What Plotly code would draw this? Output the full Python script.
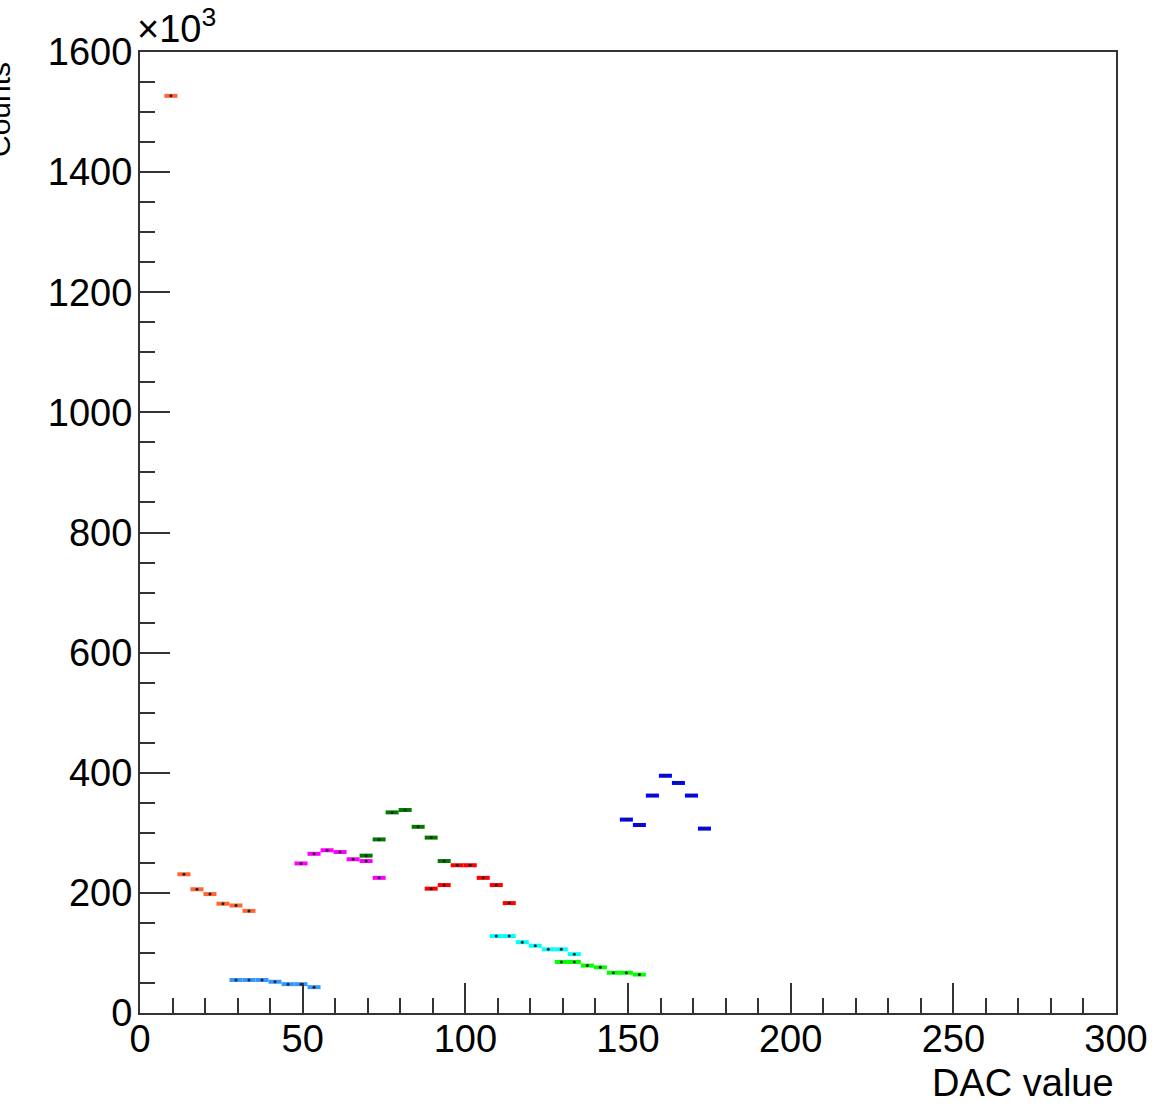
import plotly.graph_objects as go

# ---- data (counts in units of 10^3) ----
bin_half_width = 2.0

orange_x = [9.5, 13.5, 17.5, 21.5, 25.5, 29.5, 33.5]
orange_y = [1527, 231, 206, 198, 182, 179, 170]

azure_x = [29.5, 33.5, 37.5, 41.5, 45.5, 49.5, 53.5]
azure_y = [55, 55, 55, 52, 48, 48, 43]

magenta_x = [49.5, 53.5, 57.5, 61.5, 65.5, 69.5, 73.5]
magenta_y = [249, 265, 271, 268, 256, 253, 225]

dkgreen_x = [69.5, 73.5, 77.5, 81.5, 85.5, 89.5, 93.5]
dkgreen_y = [262, 289, 334, 338, 310, 292, 253]

red_x = [89.5, 93.5, 97.5, 101.5, 105.5, 109.5, 113.5]
red_y = [207, 213, 246, 246, 225, 213, 183]

cyan_x = [109.5, 113.5, 117.5, 121.5, 125.5, 129.5, 133.5]
cyan_y = [128, 128, 118, 112, 106, 106, 98]

lime_x = [129.5, 133.5, 137.5, 141.5, 145.5, 149.5, 153.5]
lime_y = [85, 85, 79, 76, 67, 67, 64]

blue_x = [149.5, 153.5, 157.5, 161.5, 165.5, 169.5, 173.5]
blue_y = [322, 313, 362, 395, 383, 362, 307]

series = [
    (orange_x, orange_y, "#ff6633"),
    (azure_x, azure_y, "#3399ff"),
    (magenta_x, magenta_y, "#ff00ff"),
    (dkgreen_x, dkgreen_y, "#007a00"),
    (red_x, red_y, "#ff0000"),
    (cyan_x, cyan_y, "#00ffff"),
    (lime_x, lime_y, "#00ff00"),
    (blue_x, blue_y, "#0000ff"),
]

fig = go.Figure()
for xs, ys, col in series:
    fig.add_trace(go.Scatter(
        x=xs, y=ys, mode="markers",
        marker=dict(size=3, color="#222222"),
        error_x=dict(type="constant", value=bin_half_width, color=col,
                     thickness=4, width=0),
        showlegend=False, hoverinfo="x+y",
    ))

W, H = 1156, 1106
L, R, T, B = 140, 40, 52, 93
pw = W - L - R
ph = H - T - B
FS = 38

axis_common = dict(
    showline=True, linecolor="#333333", linewidth=2, mirror=True,
    showgrid=False, zeroline=False, ticks="inside", ticklen=30,
    tickwidth=2, tickcolor="#333333", automargin=False,
    tickfont=dict(family="Liberation Sans, Arial", size=FS, color="black"),
)

fig.update_xaxes(range=[0, 300], dtick=50, tick0=0, ticklabelstandoff=-9,
                 minor=dict(ticks="inside", ticklen=15, dtick=10,
                            tickwidth=2, tickcolor="#333333"),
                 **axis_common)
fig.update_yaxes(range=[0, 1600], dtick=200, tick0=0, ticklabelstandoff=-2,
                 minor=dict(ticks="inside", ticklen=15, dtick=50,
                            tickwidth=2, tickcolor="#333333"),
                 **axis_common)

fig.update_layout(
    width=W, height=H,
    margin=dict(l=L, r=R, t=T, b=B, pad=0, autoexpand=False),
    plot_bgcolor="white", paper_bgcolor="white",
    font=dict(family="Liberation Sans, Arial", size=FS, color="black"),
    annotations=[
        dict(text="×10<sup>3</sup>", xref="paper", yref="paper",
             x=-5 / pw, y=1 + 0 / ph, xanchor="left", yanchor="bottom",
             showarrow=False, font=dict(size=FS)),
        dict(text="DAC value", xref="paper", yref="paper",
             x=1, y=-(1083 - (H - B)) / ph, xanchor="right", yanchor="middle",
             showarrow=False, font=dict(size=FS)),
        dict(text="Counts", xref="paper", yref="paper", textangle=-90,
             x=(18 - L) / pw, y=1 - 8 / ph, xanchor="right", yanchor="top",
             showarrow=False, font=dict(size=30)),
    ],
)

fig.write_html("out.html")
